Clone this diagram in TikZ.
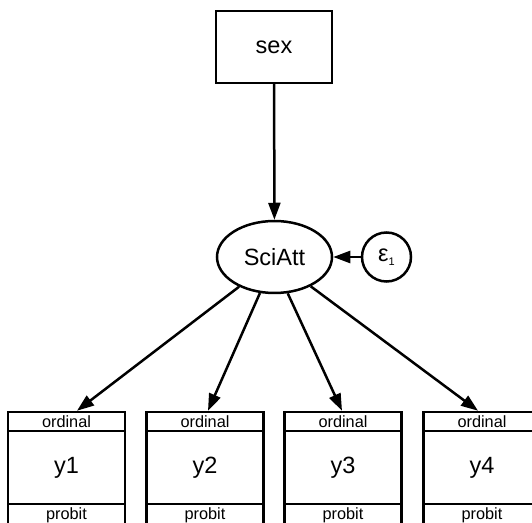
\documentclass[tikz,border=0pt]{standalone}
\usepackage{fontspec}
\setmainfont{Liberation Sans}
\usetikzlibrary{arrows.meta,shapes.geometric}
\begin{document}
\begin{tikzpicture}[x=1pt,y=1pt,
  line width=2.5pt,
  big/.style={font=\fontsize{23.5}{26}\selectfont},
  obsbox/.style={draw,rectangle,inner sep=0pt,minimum width=117pt,minimum height=73pt,big},
  strip/.style={draw,rectangle,inner sep=0pt,minimum width=117pt,minimum height=19pt,font=\fontsize{16.3}{18}\selectfont},
  latent/.style={draw,ellipse,inner sep=0pt,minimum width=115pt,minimum height=72pt,big},
  errc/.style={draw,circle,inner sep=0pt,minimum size=49pt,big},
  path/.style={-{Triangle[length=17pt,width=12pt]}}
]
\useasboundingbox (0,0) rectangle (532,522);
\fill[white] (0,0) rectangle (532,522);

\node[draw,rectangle,inner sep=0pt,minimum width=116pt,minimum height=72pt,big] (sex) at (274,475) {sex};
\node[latent] (e) at (274.5,265) {SciAtt};
\node[errc] (eps) at (386.5,265) {ε\raisebox{-0.35ex}{\fontsize{11}{12}\selectfont 1}};

\foreach \i/\x in {1/66.5,2/205,3/343,4/482}{
  \node[obsbox] (y\i) at (\x,54.5) {y\i};
  \node[strip] (y\i o) at (\x,100.5) {ordinal};
  \node[strip,minimum height=22pt] (y\i p) at (\x,7) {probit};
}

\draw[path] (sex) -- (e);
\draw[path] (eps) -- (e);
\draw[path] (e.-140.6) -- ([xshift=10.5pt]y1o.north);
\draw[path] (e.-112.5) -- ([xshift=3pt]y2o.north);
\draw[path] (e.-70.3) -- ([xshift=-1pt]y3o.north);
\draw[path] (e.-39.6) -- ([xshift=-4pt]y4o.north);
\end{tikzpicture}
\end{document}
